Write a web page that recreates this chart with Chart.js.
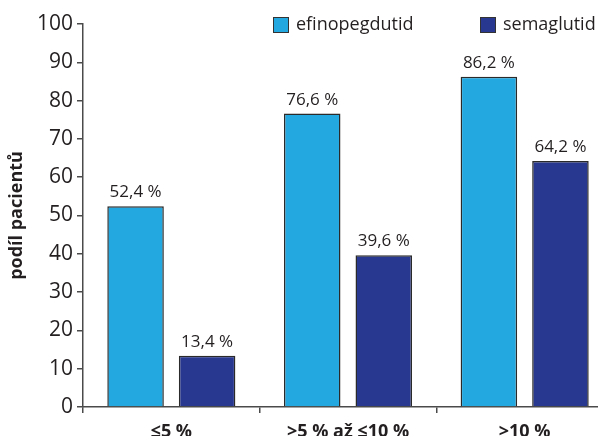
<!DOCTYPE html>
<html>
<head>
<meta charset="utf-8">
<script src="https://cdn.jsdelivr.net/npm/chart.js@4/dist/chart.umd.min.js"></script>
<style>
  html, body { margin: 0; padding: 0; background: #fff; overflow: hidden; }
  #wrap { width: 630px; height: 436px; }
</style>
</head>
<body>
<div id="wrap"><canvas id="c" width="630" height="436"></canvas></div>
<script>
const categories = ['≤5 %', '>5 % až ≤10 %', '>10 %'];
const efinopegdutid = [52.4, 76.6, 86.2];
const semaglutid = [13.4, 39.6, 64.2];
const seriesNames = ['efinopegdutid', 'semaglutid'];
const yTicks = [0, 10, 20, 30, 40, 50, 60, 70, 80, 90, 100];

const FONT = '"Open Sans", "Noto Sans", sans-serif';
const TEXT = '#231f20';
const AXIS = '#4a4a4a';
const LIGHT = '#23a8e0';
const DARK = '#283891';

const fmt = v => v.toFixed(1).replace('.', ',') + ' %';

// value labels above every bar
const valueLabels = {
  id: 'valueLabels',
  afterDatasetsDraw(chart) {
    const ctx = chart.ctx;
    ctx.save();
    ctx.font = '17px ' + FONT;
    ctx.fillStyle = TEXT;
    ctx.textAlign = 'center';
    ctx.textBaseline = 'alphabetic';
    chart.data.datasets.forEach((ds, i) => {
      chart.getDatasetMeta(i).data.forEach((bar, j) => {
        ctx.fillText(fmt(ds.data[j]), bar.x, bar.y - 9);
      });
    });
    ctx.restore();
  }
};

// legend drawn inside the plot, top right
const insideLegend = {
  id: 'insideLegend',
  afterDraw(chart) {
    const ctx = chart.ctx;
    const xs = [273, 480];
    ctx.save();
    ctx.font = '18px ' + FONT;
    ctx.textBaseline = 'middle';
    ctx.textAlign = 'left';
    chart.data.datasets.forEach((ds, i) => {
      ctx.fillStyle = ds.backgroundColor;
      ctx.fillRect(xs[i], 17, 16, 16);
      ctx.strokeStyle = '#333';
      ctx.lineWidth = 1;
      ctx.strokeRect(xs[i] + 0.5, 17.5, 15, 15);
      ctx.fillStyle = TEXT;
      ctx.fillText(ds.label, xs[i] + 23, 25);
    });
    ctx.restore();
  }
};

new Chart(document.getElementById('c'), {
  type: 'bar',
  data: {
    labels: categories,
    datasets: [
      { label: seriesNames[0], data: efinopegdutid, backgroundColor: LIGHT, borderColor: '#2a2a2a', borderWidth: 1.5 },
      { label: seriesNames[1], data: semaglutid, backgroundColor: DARK, borderColor: '#2a2a2a', borderWidth: 1.5 }
    ]
  },
  options: {
    responsive: false,
    animation: false,
    events: [],
    layout: { padding: { top: 24, right: 17, left: 0, bottom: 0 } },
    datasets: { bar: { categoryPercentage: 0.81, barPercentage: 0.79 } },
    plugins: { legend: { display: false }, tooltip: { enabled: false } },
    scales: {
      x: {
        afterFit: s => { s.height = 29; },
        border: { color: AXIS, width: 1.5 },
        grid: { offset: true, drawOnChartArea: false, drawTicks: true, tickLength: 6, color: AXIS, lineWidth: 1.5 },
        ticks: { color: TEXT, padding: 8, font: { family: FONT, size: 18, weight: 'bold' } }
      },
      y: {
        min: 0, max: 100,
        afterFit: s => { s.width = 83; },
        afterBuildTicks: s => { s.ticks = yTicks.map(v => ({ value: v })); },
        border: { color: AXIS, width: 1.5 },
        grid: { drawOnChartArea: false, drawTicks: true, tickLength: 6, color: AXIS, lineWidth: 1.5 },
        ticks: { color: TEXT, padding: 4, font: { family: FONT, size: 21 } },
        title: {
          display: true, text: 'podíl pacientů', color: TEXT,
          font: { family: FONT, size: 18, weight: 'bold' },
          padding: { top: 6, bottom: 0 }
        }
      }
    }
  },
  plugins: [valueLabels, insideLegend]
});
</script>
</body>
</html>
